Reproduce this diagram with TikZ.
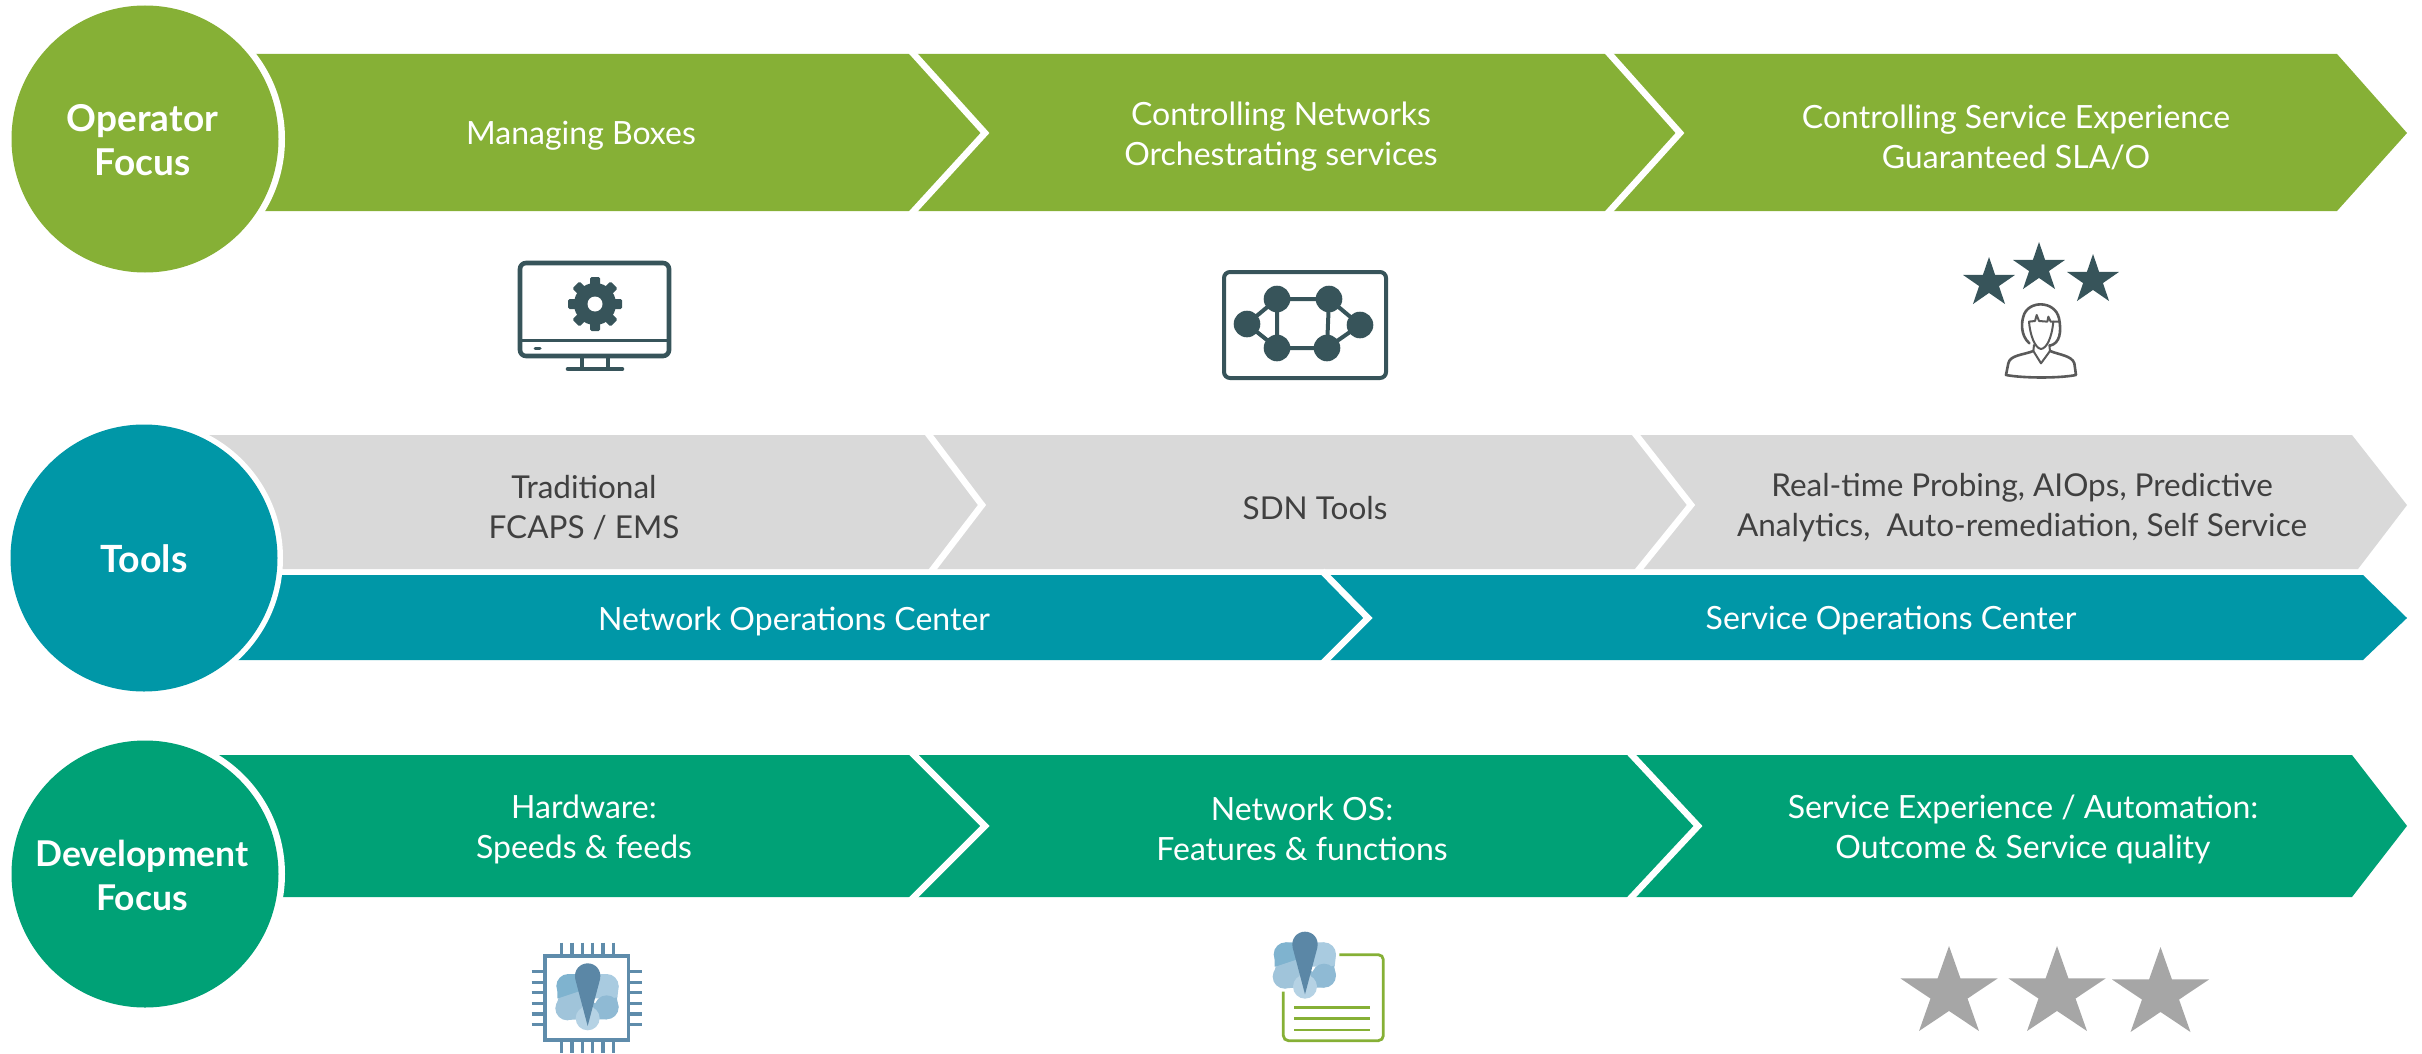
\documentclass[tikz,border=0pt]{standalone}
\usepackage{fontspec}
\setmainfont{Lato}
\usetikzlibrary{calc}
\definecolor{opgreen}{HTML}{86B036}
\definecolor{toolteal}{HTML}{0097A7}
\definecolor{toolgrey}{HTML}{D9D9D9}
\definecolor{devgreen}{HTML}{00A176}
\definecolor{icondark}{HTML}{37545A}
\definecolor{txtdark}{HTML}{404040}
\definecolor{pinblue}{HTML}{5F8CAB}
\definecolor{drop}{HTML}{5B87A6}
\definecolor{petA}{HTML}{7FB3CF}
\definecolor{petB}{HTML}{A9CBE0}
\definecolor{petC}{HTML}{A0C4DA}
\definecolor{petD}{HTML}{8FBAD4}
\definecolor{petE}{HTML}{B5D2E4}
\definecolor{starline}{HTML}{5A5A5A}
\definecolor{stargrey}{HTML}{A6A6A6}
\tikzset{
  sep/.style={draw=white,line width=6.5pt,miter limit=10},
  lighttext/.style={text=white,font=\fontsize{32}{40}\selectfont,align=center,inner sep=0pt},
  darktext/.style={text=txtdark,font=\fontsize{31.5}{40}\selectfont,align=center,inner sep=0pt},
  focuscircle/.style={circle,minimum size=267pt,inner sep=0pt},
  focuslabel/.style={text=white,font=\bfseries\fontsize{35.5}{44}\selectfont,align=center,inner sep=0pt},
  ring/.style={fill=white},
  mon/.style={draw=icondark,line width=4.6pt,line cap=round,line join=round},
  nett/.style={draw=icondark,line width=4pt},
  pers/.style={draw=starline,line width=2.6pt,line cap=round,line join=round},
  persthin/.style={draw=starline,line width=2pt,line cap=round,line join=round},
  pin/.style={draw=pinblue,line width=3.6pt},
  gline/.style={draw=opgreen,line width=2.6pt},
}
\newcommand{\fivestar}[5]{% x,y,Rx,Ry,colour
  \fill[#5] ($(#1,#2)+(0,-#4)$)
   \foreach \a in {1,...,9}{ -- ($(#1,#2)+({sin(36*\a)*(iseven(\a)?1:0.382)*#3},{-cos(36*\a)*(iseven(\a)?1:0.382)*#4})$)} -- cycle;
}
\newcommand{\flowerpic}{%
  \fill[petA] (175,198) circle (36);
  \fill[petA] (233,235) -- (142,235) -- (142,198) -- (175,162) -- (233,162) -- cycle;
  \fill[petB] (290,198) circle (36);
  \fill[petB] (233,235) -- (322,235) -- (326,198) -- (290,162) -- (233,162) -- cycle;
  \fill[petC] (172,265) circle (36);
  \fill[petC] (145,235) -- (205,215) -- (233,235) -- (205,298) -- (172,300) -- (137,265) -- cycle;
  \fill[petD] (290,262) circle (36);
  \fill[petD] (320,232) -- (255,250) -- (233,235) -- (262,298) -- (290,298) -- (326,262) -- cycle;
  \fill[petE] (233,295) circle (36);
  \fill[petE] (233,235) -- (198,292) -- (268,292) -- cycle;
  \fill[drop] (233,318) -- (196,178) .. controls (190,150) and (210,130) .. (233,130) .. controls (256,130) and (276,150) .. (270,178) -- cycle;
}
\begin{document}
\begin{tikzpicture}[x=1pt,y=-1pt]
\useasboundingbox (0,0) rectangle (2422,1054);
% row 1
\fill[opgreen] (145,54) -- (2337,54) -- (2407,133) -- (2337,211) -- (145,211) -- cycle;
\draw[sep] (910,50) -- (985,133) -- (910,215);
\draw[sep] (1606,50) -- (1680,133) -- (1606,215);
% row 2
\fill[toolgrey] (145,435) -- (2352,435) -- (2407,505) -- (2358,569) -- (145,569) -- cycle;
\draw[sep] (926,431) -- (982,505) -- (930,573);
\draw[sep] (1633,431) -- (1691,505) -- (1636,573);
% row 3
\fill[toolteal] (145,575) -- (2363,575) -- (2407,618) -- (2363,660) -- (145,660) -- cycle;
\draw[sep] (1322,571) -- (1368,618) -- (1322,664);
% row 4
\fill[devgreen] (145,755) -- (2352,755) -- (2407,826) -- (2352,897) -- (145,897) -- cycle;
\draw[sep] (910,751) -- (985,826) -- (910,901);
\draw[sep] (1628,751) -- (1698,826) -- (1628,901);
% circles
\fill[ring] (145,139) circle (140);
\fill[ring] (144,558) circle (139);
\fill[ring] (145,874) circle (140);
\node[focuscircle,fill=opgreen] (opc) at (145,139) {};
\node[focuscircle,fill=toolteal] (toc) at (144,558) {};
\node[focuscircle,fill=devgreen] (dec) at (145,874) {};
\node[focuslabel,font=\bfseries\fontsize{37}{44}\selectfont] (opl) at (142.5,140) {Operator\\Focus};
\node[focuslabel,font=\bfseries\fontsize{37.5}{44}\selectfont] (tol) at (144,559) {Tools};
\node[focuslabel] (del) at (142,875) {Development\\Focus};
% labels
\node[lighttext] (a1) at (581,136) {Managing Boxes};
\node[lighttext] (a2) at (1281,137) {Controlling Networks\\Orchestrating services};
\node[lighttext] (a3) at (2016,137) {Controlling Service Experience\\Guaranteed SLA/O};
\node[darktext] (b1) at (584,508) {Traditional\\FCAPS / EMS};
\node[darktext] (b2) at (1315,508) {SDN Tools};
\node[darktext] (b3) at (2022,508) {Real-time Probing, AIOps, Predictive\\Analytics,\ \ Auto-remediation, Self Service};
\node[lighttext] (c1) at (794,621) {Network Operations Center};
\node[lighttext] (c2) at (1891,621) {Service Operations Center};
\node[lighttext] (d1) at (584,829) {Hardware:\\Speeds \& feeds};
\node[lighttext] (d2) at (1302,829) {Network OS:\\Features \& functions};
\node[lighttext] (d3) at (2023,829) {Service Experience / Automation:\\Outcome \& Service quality};
% monitor icon
\draw[mon,rounded corners=6pt] (520,263) rectangle (669,356);
\draw[mon,line width=3pt] (520,340) -- (669,340);
\draw[mon,line width=3pt] (535,348) -- (540,348);
\draw[mon,line width=4pt] (582,357) -- (582,368) (608,357) -- (608,368);
\draw[mon] (568,369) -- (622,369);
\fill[icondark] (595,304) circle (21);
\foreach \a in {0,45,...,315}
  \fill[icondark,rotate around={\a:(595,304)},rounded corners=1.5pt] (590,277) rectangle (600,288);
\fill[white] (595,304) circle (7.5);
% network icon
\draw[nett,rounded corners=6pt] (1224,272) rectangle (1386,378);
\draw[nett] (1277,299) -- (1329,299) -- (1360,325) -- (1327,348) -- (1277,348) -- (1247,324) -- cycle;
\draw[nett] (1277,299) -- (1277,348) (1329,299) -- (1327,348);
\foreach \x/\y in {1277/299,1329/299,1247/324,1360/325,1277/348,1327/348}
  \fill[icondark] (\x,\y) circle (13.3);
% star rating icon
\fivestar{1989}{283}{27.3}{26}{icondark}
\fivestar{2039}{268}{27.3}{26}{icondark}
\fivestar{2093}{280}{27.3}{26}{icondark}
\begin{scope}[shift={(1940,225)},x=.3333pt,y=-.3333pt]
  \draw[pers] (268,355) .. controls (240,330) and (245,290) .. (250,275) .. controls (262,225) and (345,225) .. (357,280) .. controls (365,320) and (360,355) .. (330,362);
  \draw[persthin] (267,290) -- (285,288) -- (290,270) -- (297,288) -- (322,290) -- (325,275) -- (332,290) -- (358,290);
  \draw[persthin] (267,290) .. controls (270,330) and (285,370) .. (303,372) .. controls (320,370) and (335,340) .. (340,290);
  \draw[persthin] (282,360) -- (280,378) -- (303,415) -- (330,378) -- (328,360);
  \draw[pers] (280,378) .. controls (250,390) and (210,390) .. (205,415) -- (198,450) .. controls (250,460) and (360,460) .. (408,450) -- (403,415) .. controls (395,392) and (360,390) .. (330,378);
\end{scope}
% chip icon
\begin{scope}[shift={(510,920)},x=.3333pt,y=-.3333pt]
  \draw[pin] (105,108) rectangle (355,360);
  \foreach \v in {155,186,217,248,279,310} {
    \draw[pin] (\v,68) -- (\v,105);
    \draw[pin] (\v,362) -- (\v,400);
  }
  \foreach \v in {155,187,218,250,282,313} {
    \draw[pin] (65,\v) -- (105,\v);
    \draw[pin] (355,\v) -- (397,\v);
  }
  \flowerpic
\end{scope}
% document icon
\begin{scope}[shift={(1250,920)},x=.3333pt,y=-.3333pt]
  \draw[gline,line width=2.8pt,rounded corners=5pt] (268,104) -- (400,104) -- (400,362) -- (100,362) -- (100,215);
  \draw[gline] (133,262) -- (360,262) (133,296) -- (360,296) (133,330) -- (360,330);
  \begin{scope}[shift={(-68,-95)}]
    \flowerpic
  \end{scope}
\end{scope}
% grey stars
\fivestar{1949}{993}{51}{47}{stargrey}
\fivestar{2057}{993}{51}{47}{stargrey}
\fivestar{2160.5}{994}{51}{47}{stargrey}
\end{tikzpicture}
\end{document}
